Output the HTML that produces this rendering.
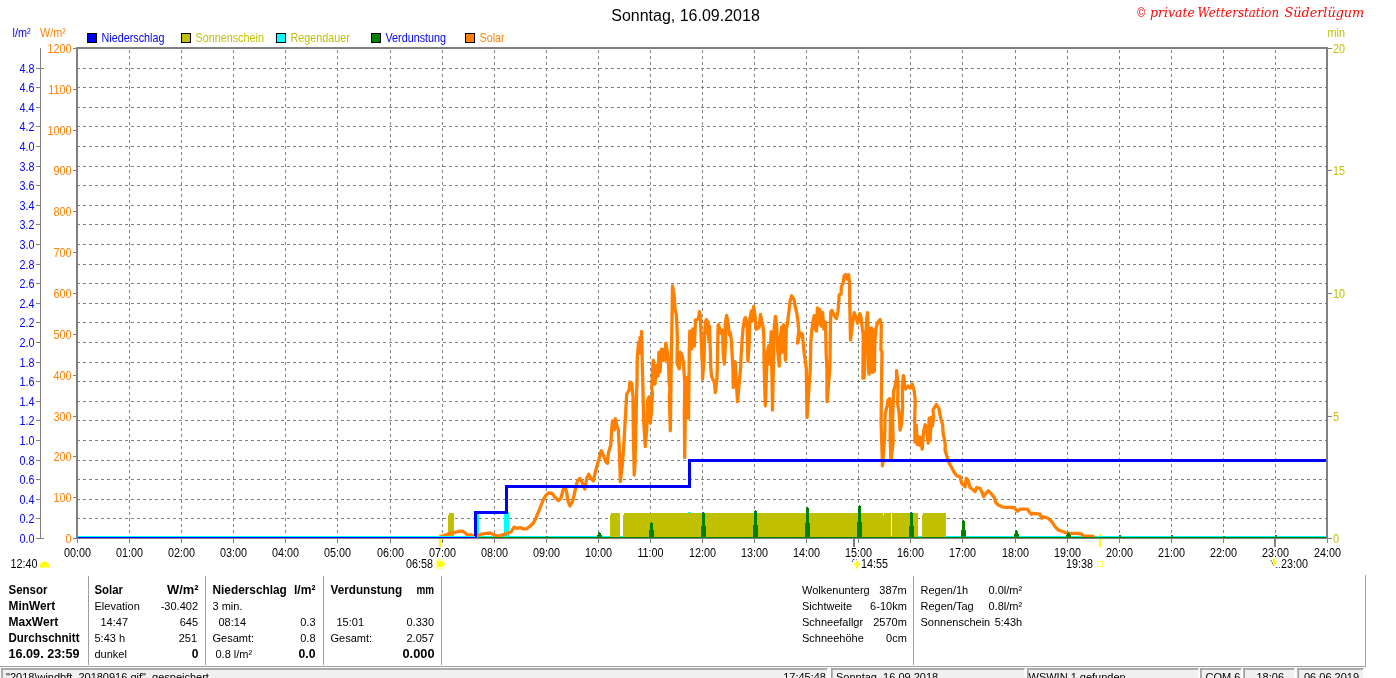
<!DOCTYPE html>
<html lang="de"><head><meta charset="utf-8"><title>Wetterstation Süderlügum – Sonntag, 16.09.2018</title>
<style>html,body{margin:0;padding:0;background:#fff;overflow:hidden}body{width:1396px;height:678px}svg text{white-space:pre}</style></head>
<body>
<svg width="1396" height="678" viewBox="0 0 1396 678" style="display:block">
<rect x="0" y="0" width="1396" height="678" fill="#ffffff"/>
<g font-family="Liberation Sans, Arial, sans-serif" font-size="11px">
<g stroke="#808080" stroke-width="1" stroke-dasharray="3 3" shape-rendering="crispEdges" fill="none">
<line x1="77" y1="518.5" x2="1326" y2="518.5"/>
<line x1="77" y1="499.5" x2="1326" y2="499.5"/>
<line x1="77" y1="479.5" x2="1326" y2="479.5"/>
<line x1="77" y1="460.5" x2="1326" y2="460.5"/>
<line x1="77" y1="440.5" x2="1326" y2="440.5"/>
<line x1="77" y1="420.5" x2="1326" y2="420.5"/>
<line x1="77" y1="401.5" x2="1326" y2="401.5"/>
<line x1="77" y1="381.5" x2="1326" y2="381.5"/>
<line x1="77" y1="362.5" x2="1326" y2="362.5"/>
<line x1="77" y1="342.5" x2="1326" y2="342.5"/>
<line x1="77" y1="322.5" x2="1326" y2="322.5"/>
<line x1="77" y1="303.5" x2="1326" y2="303.5"/>
<line x1="77" y1="283.5" x2="1326" y2="283.5"/>
<line x1="77" y1="264.5" x2="1326" y2="264.5"/>
<line x1="77" y1="244.5" x2="1326" y2="244.5"/>
<line x1="77" y1="224.5" x2="1326" y2="224.5"/>
<line x1="77" y1="205.5" x2="1326" y2="205.5"/>
<line x1="77" y1="185.5" x2="1326" y2="185.5"/>
<line x1="77" y1="166.5" x2="1326" y2="166.5"/>
<line x1="77" y1="146.5" x2="1326" y2="146.5"/>
<line x1="77" y1="126.5" x2="1326" y2="126.5"/>
<line x1="77" y1="107.5" x2="1326" y2="107.5"/>
<line x1="77" y1="87.5" x2="1326" y2="87.5"/>
<line x1="77" y1="68.5" x2="1326" y2="68.5"/>
<line x1="129.5" y1="50" x2="129.5" y2="537"/>
<line x1="181.5" y1="50" x2="181.5" y2="537"/>
<line x1="233.5" y1="50" x2="233.5" y2="537"/>
<line x1="285.5" y1="50" x2="285.5" y2="537"/>
<line x1="337.5" y1="50" x2="337.5" y2="537"/>
<line x1="390.5" y1="50" x2="390.5" y2="537"/>
<line x1="442.5" y1="50" x2="442.5" y2="537"/>
<line x1="494.5" y1="50" x2="494.5" y2="537"/>
<line x1="546.5" y1="50" x2="546.5" y2="537"/>
<line x1="598.5" y1="50" x2="598.5" y2="537"/>
<line x1="650.5" y1="50" x2="650.5" y2="537"/>
<line x1="702.5" y1="50" x2="702.5" y2="537"/>
<line x1="754.5" y1="50" x2="754.5" y2="537"/>
<line x1="806.5" y1="50" x2="806.5" y2="537"/>
<line x1="858.5" y1="50" x2="858.5" y2="537"/>
<line x1="910.5" y1="50" x2="910.5" y2="537"/>
<line x1="962.5" y1="50" x2="962.5" y2="537"/>
<line x1="1015.5" y1="50" x2="1015.5" y2="537"/>
<line x1="1067.5" y1="50" x2="1067.5" y2="537"/>
<line x1="1119.5" y1="50" x2="1119.5" y2="537"/>
<line x1="1171.5" y1="50" x2="1171.5" y2="537"/>
<line x1="1223.5" y1="50" x2="1223.5" y2="537"/>
<line x1="1275.5" y1="50" x2="1275.5" y2="537"/>
</g>
<rect x="439" y="534" width="2" height="13" fill="#ffff00" shape-rendering="crispEdges"/>
<rect x="1099" y="534" width="2" height="13" fill="#ffff00" shape-rendering="crispEdges"/>
<clipPath id="pc"><rect x="78" y="49" width="1248" height="489"/></clipPath>
<g clip-path="url(#pc)">
<g fill="#00ffff" shape-rendering="crispEdges">
<rect x="78" y="536" width="1249" height="1"/>
<rect x="474" y="512" width="5" height="26"/>
<rect x="504" y="512" width="5" height="26"/>
<rect x="688" y="512" width="3" height="1"/>
</g>
<g fill="#c0c000" shape-rendering="crispEdges">
<rect x="448" y="513" width="6" height="25"/>
<rect x="610" y="513" width="10" height="25"/>
<rect x="623" y="513" width="268" height="25"/>
<rect x="892" y="513" width="26" height="25"/>
<rect x="922" y="513" width="24" height="25"/>
</g>
<rect x="883" y="513" width="1" height="2" fill="#fff" shape-rendering="crispEdges"/>
<rect x="448" y="513" width="1" height="2" fill="#fff" shape-rendering="crispEdges"/>
<rect x="610" y="513" width="1" height="2" fill="#fff" shape-rendering="crispEdges"/>
<rect x="623" y="513" width="1" height="2" fill="#fff" shape-rendering="crispEdges"/>
<rect x="922" y="513" width="1" height="2" fill="#fff" shape-rendering="crispEdges"/>
<path d="M440.6,536.9 L447.7,534.2 L453.0,532.8 L458.3,531.5 L462.8,531.2 L465.4,533.3 L468.1,535.4 L470.7,534.7 L473.4,536.0 L476.0,536.0 L481.3,534.2 L486.7,533.3 L490.2,533.0 L492.9,534.2 L496.4,536.0 L500.8,535.4 L504.4,534.2 L507.9,533.3 L511.4,531.5 L514.1,527.1 L516.8,528.4 L520.3,527.6 L523.0,528.9 L526.5,528.9 L530.0,526.2 L533.6,522.7 L536.2,517.4 L539.8,508.5 L543.3,499.7 L546.0,495.2 L548.6,492.9 L552.2,493.5 L554.8,497.0 L558.4,500.6 L561.0,497.9 L562.8,490.8 L564.6,486.4 L566.3,490.8 L568.1,501.4 L569.9,505.9 L572.5,501.4 L574.3,494.4 L576.1,485.5 L577.8,480.2 L580.1,478.4 L582.3,482.9 L584.9,489.1 L586.7,478.3 L588.7,474.2 L590.8,478.3 L593.3,480.8 L595.8,470.0 L599.2,458.3 L601.3,450.8 L603.3,455.0 L605.8,461.7 L607.5,463.3 L608.3,453.3 L610.8,445.0 L611.7,430.0 L612.5,420.8 L614.2,430.0 L615.3,418.7 L616.7,425.0 L618.3,430.0 L619.2,446.7 L620.0,470.0 L620.3,481.7 L622.5,463.3 L624.2,438.3 L625.8,410.0 L626.7,394.2 L629.2,390.0 L630.0,382.0 L631.7,383.3 L633.0,396.7 L633.3,430.0 L634.2,475.0 L635.0,463.3 L635.8,430.0 L636.7,388.3 L636.9,388.2 L637.3,358.1 L638.6,342.1 L639.3,353.1 L640.1,337.1 L640.9,350.1 L641.6,331.5 L642.1,355.1 L642.9,388.2 L643.7,421.7 L645.3,446.7 L646.7,430.0 L647.5,400.0 L649.2,396.7 L650.3,423.3 L651.3,413.3 L652.5,393.3 L651.7,388.2 L653.2,360.1 L655.0,384.2 L656.7,365.1 L658.0,376.2 L658.9,352.1 L660.0,372.2 L661.4,349.1 L662.7,360.6 L664.2,349.1 L665.0,360.1 L665.7,343.3 L667.4,352.1 L668.4,363.1 L669.2,382.2 L669.9,388.2 L669.3,396.7 L670.3,430.8 L670.8,396.7 L671.3,355.0 L672.0,320.0 L672.5,285.8 L674.2,295.8 L675.0,308.3 L676.3,315.0 L676.7,320.0 L677.4,339.1 L677.0,363.1 L679.2,368.8 L680.2,352.1 L681.7,354.6 L683.0,359.6 L683.8,368.1 L684.8,384.2 L684.3,413.3 L684.7,457.5 L685.3,413.3 L686.8,377.5 L688.0,396.7 L688.5,418.3 L688.8,396.7 L689.3,350.1 L689.8,331.0 L691.8,349.1 L692.8,329.0 L694.3,346.1 L695.3,326.0 L695.3,320.0 L698.3,319.2 L699.5,311.7 L700.8,320.0 L700.5,320.1 L701.8,354.2 L702.5,368.2 L702.5,379.2 L704.0,360.2 L704.8,330.1 L705.5,321.6 L706.5,319.6 L707.2,333.1 L708.0,321.6 L708.8,340.1 L709.5,326.1 L710.3,350.2 L710.8,368.2 L711.5,376.2 L714.3,382.2 L715.3,392.5 L716.9,379.2 L717.3,368.2 L717.6,349.1 L718.1,325.1 L718.6,324.6 L720.6,333.1 L722.6,330.1 L723.3,354.2 L724.3,364.2 L725.6,340.1 L725.2,324.1 L726.6,315.5 L728.1,323.1 L729.3,335.1 L730.1,332.1 L731.3,340.1 L732.1,354.2 L732.9,368.2 L733.3,387.5 L735.1,361.7 L737.5,401.7 L740.6,368.2 L741.1,356.2 L742.1,340.1 L743.1,328.1 L744.6,318.6 L745.6,317.6 L747.1,325.1 L747.9,361.2 L749.1,345.1 L749.8,319.1 L751.4,311.0 L752.2,321.1 L753.7,306.5 L755.0,315.0 L756.0,329.1 L757.7,328.6 L759.2,327.1 L760.5,314.5 L761.7,321.1 L763.0,326.6 L763.8,336.1 L764.2,368.2 L765.3,405.8 L766.7,368.2 L767.2,354.2 L768.7,345.6 L769.7,364.2 L771.2,331.6 L772.5,410.0 L774.2,327.1 L775.4,316.5 L776.7,326.1 L777.7,350.2 L779.2,366.2 L780.2,339.1 L781.7,327.1 L782.4,352.2 L783.5,324.6 L784.8,350.2 L785.5,360.2 L786.3,329.1 L787.5,323.1 L788.8,312.5 L790.3,300.0 L791.7,295.8 L794.2,300.0 L794.8,305.0 L796.8,313.0 L797.8,320.1 L798.8,330.1 L797.5,343.1 L800.3,333.1 L802.3,334.1 L803.3,344.1 L804.3,354.2 L805.8,364.2 L806.3,368.2 L807.0,417.5 L810.3,368.2 L810.8,342.1 L811.8,330.1 L813.3,320.1 L814.3,315.5 L815.3,329.1 L816.5,331.1 L817.4,308.0 L818.9,324.1 L819.9,309.5 L821.4,326.1 L822.6,312.5 L823.9,329.1 L825.4,322.1 L826.2,354.2 L826.9,368.2 L827.0,401.7 L829.9,368.2 L830.4,325.1 L830.9,311.5 L831.9,310.5 L833.9,315.0 L836.4,318.6 L837.9,312.0 L838.9,300.0 L839.1,295.1 L841.1,294.1 L841.3,287.1 L843.1,283.0 L844.1,276.0 L845.6,274.5 L847.1,279.0 L848.6,274.8 L849.6,284.0 L849.7,302.1 L850.5,340.1 L852.0,328.0 L854.2,312.6 L856.2,318.2 L857.7,323.2 L859.7,313.6 L861.2,318.2 L862.2,328.2 L863.2,334.2 L862.9,378.2 L864.1,378.2 L865.3,348.0 L866.5,322.0 L867.4,312.6 L868.3,330.0 L868.5,370.0 L869.1,374.2 L869.9,329.0 L870.6,372.0 L871.4,328.0 L872.1,372.0 L872.9,349.0 L873.5,372.0 L873.8,330.0 L874.4,371.0 L874.9,340.0 L876.1,327.5 L877.9,322.0 L880.1,319.5 L881.3,325.0 L880.9,350.0 L882.0,351.6 L881.6,378.0 L881.1,423.1 L882.5,465.8 L884.6,438.2 L885.1,414.1 L887.1,406.1 L888.1,400.1 L889.6,398.6 L890.6,408.1 L890.1,438.2 L891.0,460.0 L893.1,442.2 L892.6,419.1 L893.6,391.0 L895.1,386.0 L896.6,378.0 L896.5,370.7 L898.1,384.0 L897.6,403.1 L899.1,413.1 L900.1,430.2 L901.6,423.1 L902.6,408.1 L902.3,387.0 L903.4,375.7 L904.1,380.0 L904.6,387.0 L905.6,389.0 L908.1,386.0 L910.2,388.0 L912.2,384.0 L914.2,391.0 L915.2,400.1 L914.7,420.1 L915.0,442.2 L916.2,425.1 L917.4,444.7 L918.2,436.7 L919.4,445.2 L920.2,437.2 L922.2,449.2 L923.7,431.2 L925.2,424.6 L926.7,430.2 L928.2,443.2 L929.2,418.1 L930.2,440.2 L931.2,417.1 L932.4,426.1 L933.7,416.1 L932.9,410.1 L934.7,407.1 L936.4,404.6 L938.7,408.1 L939.7,413.1 L941.2,420.1 L942.7,425.1 L943.2,434.2 L944.8,441.2 L945.3,446.2 L945.0,450.0 L946.7,455.8 L949.2,463.3 L951.7,467.5 L954.2,472.5 L956.7,475.8 L960.0,476.7 L961.7,483.3 L965.0,486.7 L966.3,478.3 L968.3,480.8 L970.0,487.5 L973.3,490.0 L975.0,491.7 L976.7,487.5 L980.0,488.3 L982.5,493.3 L983.7,496.7 L985.8,493.3 L988.3,490.8 L991.7,494.2 L994.2,497.5 L995.8,502.5 L998.3,505.0 L1003.3,507.2 L1013.3,507.5 L1015.8,509.2 L1017.5,511.3 L1020.0,509.2 L1027.5,509.2 L1029.2,511.7 L1031.3,514.2 L1033.3,513.3 L1040.0,514.2 L1041.7,518.3 L1043.3,516.7 L1048.3,518.3 L1051.7,521.7 L1055.0,526.7 L1058.3,530.0 L1063.3,531.7 L1067.5,533.3 L1078.3,533.3 L1081.7,534.2 L1083.3,535.8 L1093.3,536.3" fill="none" stroke="#ff8000" stroke-width="3.3" stroke-linejoin="round" stroke-linecap="round"/>
<g fill="#008000" shape-rendering="crispEdges">
<rect x="478" y="537" width="849" height="1"/>
<rect x="546" y="536" width="2" height="2"/>
<rect x="599" y="532" width="1" height="6"/>
<rect x="598" y="533" width="3" height="5"/>
<rect x="597" y="535" width="5" height="3"/>
<rect x="651" y="522" width="1" height="16"/>
<rect x="650" y="523" width="3" height="15"/>
<rect x="649" y="530" width="5" height="8"/>
<rect x="703" y="512" width="1" height="26"/>
<rect x="702" y="513" width="3" height="25"/>
<rect x="701" y="526" width="5" height="12"/>
<rect x="755" y="510" width="1" height="28"/>
<rect x="754" y="511" width="3" height="27"/>
<rect x="753" y="525" width="5" height="13"/>
<rect x="807" y="507" width="1" height="31"/>
<rect x="806" y="508" width="3" height="30"/>
<rect x="805" y="523" width="5" height="15"/>
<rect x="859" y="505" width="1" height="33"/>
<rect x="858" y="506" width="3" height="32"/>
<rect x="857" y="522" width="5" height="16"/>
<rect x="911" y="512" width="1" height="26"/>
<rect x="910" y="513" width="3" height="25"/>
<rect x="909" y="526" width="5" height="12"/>
<rect x="963" y="520" width="1" height="18"/>
<rect x="962" y="521" width="3" height="17"/>
<rect x="961" y="530" width="5" height="8"/>
<rect x="1016" y="530" width="1" height="8"/>
<rect x="1015" y="531" width="3" height="7"/>
<rect x="1014" y="534" width="5" height="4"/>
<rect x="1068" y="532" width="1" height="6"/>
<rect x="1067" y="533" width="3" height="5"/>
<rect x="1066" y="535" width="5" height="3"/>
<rect x="1119" y="535" width="2" height="3"/>
<rect x="1171" y="535" width="2" height="3"/>
<rect x="1223" y="536" width="2" height="2"/>
<rect x="1275" y="535" width="2" height="3"/>
</g>
</g>
<path d="M78,537.5 H475.5 V512.5 H506 V486.5 H689 V460.5 H1326" fill="none" stroke="#0000ff" stroke-width="3" stroke-linejoin="miter" shape-rendering="crispEdges"/>
<rect x="78" y="536" width="397" height="1" fill="#00ffff" shape-rendering="crispEdges"/>
<g fill="#808080" shape-rendering="crispEdges">
<rect x="76" y="47" width="1252" height="2"/>
<rect x="76" y="47" width="2" height="492"/>
<rect x="1326" y="47" width="2" height="492"/>
<rect x="76" y="538" width="1252" height="1"/>
<rect x="77" y="539" width="1" height="4"/>
<rect x="129" y="539" width="1" height="4"/>
<rect x="181" y="539" width="1" height="4"/>
<rect x="233" y="539" width="1" height="4"/>
<rect x="285" y="539" width="1" height="4"/>
<rect x="337" y="539" width="1" height="4"/>
<rect x="390" y="539" width="1" height="4"/>
<rect x="442" y="539" width="1" height="4"/>
<rect x="494" y="539" width="1" height="4"/>
<rect x="546" y="539" width="1" height="4"/>
<rect x="598" y="539" width="1" height="4"/>
<rect x="650" y="539" width="1" height="4"/>
<rect x="702" y="539" width="1" height="4"/>
<rect x="754" y="539" width="1" height="4"/>
<rect x="806" y="539" width="1" height="4"/>
<rect x="858" y="539" width="1" height="4"/>
<rect x="910" y="539" width="1" height="4"/>
<rect x="962" y="539" width="1" height="4"/>
<rect x="1015" y="539" width="1" height="4"/>
<rect x="1067" y="539" width="1" height="4"/>
<rect x="1119" y="539" width="1" height="4"/>
<rect x="1171" y="539" width="1" height="4"/>
<rect x="1223" y="539" width="1" height="4"/>
<rect x="1275" y="539" width="1" height="4"/>
<rect x="1327" y="539" width="1" height="4"/>
<rect x="853" y="538" width="2" height="9"/>
<rect x="1274" y="538" width="2" height="9"/>
<rect x="40" y="48" width="1" height="491"/>
<rect x="36" y="538" width="8" height="1"/>
<rect x="36" y="518" width="4" height="1"/>
<rect x="36" y="499" width="4" height="1"/>
<rect x="36" y="479" width="4" height="1"/>
<rect x="36" y="460" width="4" height="1"/>
<rect x="36" y="440" width="4" height="1"/>
<rect x="36" y="420" width="4" height="1"/>
<rect x="36" y="401" width="4" height="1"/>
<rect x="36" y="381" width="4" height="1"/>
<rect x="36" y="362" width="4" height="1"/>
<rect x="36" y="342" width="4" height="1"/>
<rect x="36" y="322" width="4" height="1"/>
<rect x="36" y="303" width="4" height="1"/>
<rect x="36" y="283" width="4" height="1"/>
<rect x="36" y="264" width="4" height="1"/>
<rect x="36" y="244" width="4" height="1"/>
<rect x="36" y="224" width="4" height="1"/>
<rect x="36" y="205" width="4" height="1"/>
<rect x="36" y="185" width="4" height="1"/>
<rect x="36" y="166" width="4" height="1"/>
<rect x="36" y="146" width="4" height="1"/>
<rect x="36" y="126" width="4" height="1"/>
<rect x="36" y="107" width="4" height="1"/>
<rect x="36" y="87" width="4" height="1"/>
<rect x="36" y="68" width="8" height="1"/>
<rect x="73" y="538" width="3" height="1"/>
<rect x="73" y="497" width="3" height="1"/>
<rect x="73" y="456" width="3" height="1"/>
<rect x="73" y="416" width="3" height="1"/>
<rect x="73" y="375" width="3" height="1"/>
<rect x="73" y="334" width="3" height="1"/>
<rect x="73" y="293" width="3" height="1"/>
<rect x="73" y="252" width="3" height="1"/>
<rect x="73" y="211" width="3" height="1"/>
<rect x="73" y="170" width="3" height="1"/>
<rect x="73" y="130" width="3" height="1"/>
<rect x="73" y="89" width="3" height="1"/>
<rect x="73" y="48" width="3" height="1"/>
<rect x="1328" y="538" width="4" height="1"/>
<rect x="1328" y="416" width="4" height="1"/>
<rect x="1328" y="293" width="4" height="1"/>
<rect x="1328" y="170" width="4" height="1"/>
<rect x="1328" y="48" width="4" height="1"/>
</g>
<g opacity="0.999">
<text x="685.5" y="21" font-size="16px" text-anchor="middle" fill="#000">Sonntag, 16.09.2018</text>
<g font-size="12px" font-style="italic" font-family="DejaVu Serif, Liberation Serif, serif" fill="#ff0000">
<text x="1136" y="16.6" textLength="10.5" lengthAdjust="spacingAndGlyphs">©</text>
<text x="1150" y="16.6" textLength="45" lengthAdjust="spacingAndGlyphs">private</text>
<text x="1197.6" y="16.6" textLength="81.5" lengthAdjust="spacingAndGlyphs">Wetterstation</text>
<text x="1284.5" y="16.6" textLength="79.7" lengthAdjust="spacingAndGlyphs">Süderlügum</text>
</g>
<text transform="translate(101.5 42) scale(0.9 1)" font-size="12px" fill="#0000ff">Niederschlag</text>
<text transform="translate(195.5 42) scale(0.9 1)" font-size="12px" fill="#c0c000">Sonnenschein</text>
<text transform="translate(290.5 42) scale(0.9 1)" font-size="12px" fill="#c0c000">Regendauer</text>
<text transform="translate(385.5 42) scale(0.9 1)" font-size="12px" fill="#0000ff">Verdunstung</text>
<text transform="translate(479.5 42) scale(0.9 1)" font-size="12px" fill="#ff8000">Solar</text>
<g fill="#0000ff" text-anchor="end">
<text transform="translate(34.5 542.5) scale(0.9 1)" font-size="12px">0.0</text>
<text transform="translate(34.5 522.5) scale(0.9 1)" font-size="12px">0.2</text>
<text transform="translate(34.5 503.5) scale(0.9 1)" font-size="12px">0.4</text>
<text transform="translate(34.5 483.5) scale(0.9 1)" font-size="12px">0.6</text>
<text transform="translate(34.5 464.5) scale(0.9 1)" font-size="12px">0.8</text>
<text transform="translate(34.5 444.5) scale(0.9 1)" font-size="12px">1.0</text>
<text transform="translate(34.5 424.5) scale(0.9 1)" font-size="12px">1.2</text>
<text transform="translate(34.5 405.5) scale(0.9 1)" font-size="12px">1.4</text>
<text transform="translate(34.5 385.5) scale(0.9 1)" font-size="12px">1.6</text>
<text transform="translate(34.5 366.5) scale(0.9 1)" font-size="12px">1.8</text>
<text transform="translate(34.5 346.5) scale(0.9 1)" font-size="12px">2.0</text>
<text transform="translate(34.5 326.5) scale(0.9 1)" font-size="12px">2.2</text>
<text transform="translate(34.5 307.5) scale(0.9 1)" font-size="12px">2.4</text>
<text transform="translate(34.5 287.5) scale(0.9 1)" font-size="12px">2.6</text>
<text transform="translate(34.5 268.5) scale(0.9 1)" font-size="12px">2.8</text>
<text transform="translate(34.5 248.5) scale(0.9 1)" font-size="12px">3.0</text>
<text transform="translate(34.5 228.5) scale(0.9 1)" font-size="12px">3.2</text>
<text transform="translate(34.5 209.5) scale(0.9 1)" font-size="12px">3.4</text>
<text transform="translate(34.5 189.5) scale(0.9 1)" font-size="12px">3.6</text>
<text transform="translate(34.5 170.5) scale(0.9 1)" font-size="12px">3.8</text>
<text transform="translate(34.5 150.5) scale(0.9 1)" font-size="12px">4.0</text>
<text transform="translate(34.5 130.5) scale(0.9 1)" font-size="12px">4.2</text>
<text transform="translate(34.5 111.5) scale(0.9 1)" font-size="12px">4.4</text>
<text transform="translate(34.5 91.5) scale(0.9 1)" font-size="12px">4.6</text>
<text transform="translate(34.5 72.5) scale(0.9 1)" font-size="12px">4.8</text>
</g>
<g fill="#ff8000" text-anchor="end">
<text transform="translate(71.5 542.5) scale(0.9 1)" font-size="12px">0</text>
<text transform="translate(71.5 501.5) scale(0.9 1)" font-size="12px">100</text>
<text transform="translate(71.5 460.5) scale(0.9 1)" font-size="12px">200</text>
<text transform="translate(71.5 420.5) scale(0.9 1)" font-size="12px">300</text>
<text transform="translate(71.5 379.5) scale(0.9 1)" font-size="12px">400</text>
<text transform="translate(71.5 338.5) scale(0.9 1)" font-size="12px">500</text>
<text transform="translate(71.5 297.5) scale(0.9 1)" font-size="12px">600</text>
<text transform="translate(71.5 256.5) scale(0.9 1)" font-size="12px">700</text>
<text transform="translate(71.5 215.5) scale(0.9 1)" font-size="12px">800</text>
<text transform="translate(71.5 174.5) scale(0.9 1)" font-size="12px">900</text>
<text transform="translate(71.5 134.5) scale(0.9 1)" font-size="12px">1000</text>
<text transform="translate(71.5 93.5) scale(0.9 1)" font-size="12px">1100</text>
<text transform="translate(71.5 52.5) scale(0.9 1)" font-size="12px">1200</text>
</g>
<g fill="#c0c000">
<text transform="translate(1333 542.5) scale(0.9 1)" font-size="12px">0</text>
<text transform="translate(1333 420.5) scale(0.9 1)" font-size="12px">5</text>
<text transform="translate(1333 297.5) scale(0.9 1)" font-size="12px">10</text>
<text transform="translate(1333 174.5) scale(0.9 1)" font-size="12px">15</text>
<text transform="translate(1333 52.5) scale(0.9 1)" font-size="12px">20</text>
<text transform="translate(1327.5 37) scale(0.9 1)" font-size="12px">min</text>
</g>
<text transform="translate(12.5 37) scale(0.9 1)" font-size="12px" fill="#0000ff">l/m²</text>
<text transform="translate(40 37) scale(0.9 1)" font-size="12px" fill="#ff8000">W/m²</text>
</g>
<rect x="87.5" y="33.5" width="9" height="9" fill="#0000ff" stroke="#000" stroke-width="1" shape-rendering="crispEdges"/>
<rect x="181.5" y="33.5" width="9" height="9" fill="#c0c000" stroke="#000" stroke-width="1" shape-rendering="crispEdges"/>
<rect x="276.5" y="33.5" width="9" height="9" fill="#00ffff" stroke="#000" stroke-width="1" shape-rendering="crispEdges"/>
<rect x="371.5" y="33.5" width="9" height="9" fill="#008000" stroke="#000" stroke-width="1" shape-rendering="crispEdges"/>
<rect x="465.5" y="33.5" width="9" height="9" fill="#ff8000" stroke="#000" stroke-width="1" shape-rendering="crispEdges"/>
<g opacity="0.999">
<g fill="#000" text-anchor="middle">
<text transform="translate(77.5 557) scale(0.9 1)" font-size="12px">00:00</text>
<text transform="translate(129.5 557) scale(0.9 1)" font-size="12px">01:00</text>
<text transform="translate(181.5 557) scale(0.9 1)" font-size="12px">02:00</text>
<text transform="translate(233.5 557) scale(0.9 1)" font-size="12px">03:00</text>
<text transform="translate(285.5 557) scale(0.9 1)" font-size="12px">04:00</text>
<text transform="translate(337.5 557) scale(0.9 1)" font-size="12px">05:00</text>
<text transform="translate(390.5 557) scale(0.9 1)" font-size="12px">06:00</text>
<text transform="translate(442.5 557) scale(0.9 1)" font-size="12px">07:00</text>
<text transform="translate(494.5 557) scale(0.9 1)" font-size="12px">08:00</text>
<text transform="translate(546.5 557) scale(0.9 1)" font-size="12px">09:00</text>
<text transform="translate(598.5 557) scale(0.9 1)" font-size="12px">10:00</text>
<text transform="translate(650.5 557) scale(0.9 1)" font-size="12px">11:00</text>
<text transform="translate(702.5 557) scale(0.9 1)" font-size="12px">12:00</text>
<text transform="translate(754.5 557) scale(0.9 1)" font-size="12px">13:00</text>
<text transform="translate(806.5 557) scale(0.9 1)" font-size="12px">14:00</text>
<text transform="translate(858.5 557) scale(0.9 1)" font-size="12px">15:00</text>
<text transform="translate(910.5 557) scale(0.9 1)" font-size="12px">16:00</text>
<text transform="translate(962.5 557) scale(0.9 1)" font-size="12px">17:00</text>
<text transform="translate(1015.5 557) scale(0.9 1)" font-size="12px">18:00</text>
<text transform="translate(1067.5 557) scale(0.9 1)" font-size="12px">19:00</text>
<text transform="translate(1119.5 557) scale(0.9 1)" font-size="12px">20:00</text>
<text transform="translate(1171.5 557) scale(0.9 1)" font-size="12px">21:00</text>
<text transform="translate(1223.5 557) scale(0.9 1)" font-size="12px">22:00</text>
<text transform="translate(1275.5 557) scale(0.9 1)" font-size="12px">23:00</text>
<text transform="translate(1327.5 557) scale(0.9 1)" font-size="12px">24:00</text>
</g>
<g fill="#000">
<text transform="translate(10.5 568) scale(0.9 1)" font-size="12px">12:40</text>
<text transform="translate(406 568) scale(0.9 1)" font-size="12px">06:58</text>
<text transform="translate(861 568) scale(0.9 1)" font-size="12px">14:55</text>
<text transform="translate(1066 568) scale(0.9 1)" font-size="12px">19:38</text>
<text transform="translate(1281 568) scale(0.9 1)" font-size="12px">23:00</text>
</g>
</g>
<path d="M40,567.5 v-2 q0.5,-4 4.5,-4 q4,0 4.5,4 v2 z" fill="#ffff00"/>
<g stroke="#ffff80" stroke-width="1" fill="none"><circle cx="440" cy="564" r="4.8"/><path d="M435.8,559.8 L444.2,568.2 M444.2,559.8 L435.8,568.2 M440,558 V570 M434,564 H446"/></g>
<circle cx="440" cy="564" r="3.3" fill="#ffff00"/>
<path d="M857,560.5 l3.5,4.5 h-2.2 v3.5 h-2.6 v-3.5 h-2.2 z" fill="#ffff00"/>
<path d="M852.5,562 v-2.5 h4" fill="none" stroke="#4040c0" stroke-width="1" stroke-dasharray="1.5 1.5"/>
<rect x="1097.5" y="561.5" width="5" height="5" fill="none" stroke="#ffff60" stroke-width="1"/>
<path d="M1274,566.5 l-3,-4.5 h1.8 v-3.5 h2.4 v3.5 h1.8 z" fill="#ffff00"/>
<path d="M1271,560 l2.5,6 M1276,567.5 h4" fill="none" stroke="#4040c0" stroke-width="1" stroke-dasharray="1.5 1.5"/>
<g fill="#a0a0a0" shape-rendering="crispEdges">
<rect x="88" y="576" width="1" height="89"/>
<rect x="205" y="576" width="1" height="89"/>
<rect x="323" y="576" width="1" height="89"/>
<rect x="441" y="576" width="1" height="89"/>
<rect x="913" y="576" width="1" height="89"/>
<rect x="1365" y="575" width="1" height="92"/>
</g>
<g opacity="0.999">
<g fill="#000">
<text x="8.5" y="593.5" font-weight="bold" font-size="12px" textLength="39" lengthAdjust="spacingAndGlyphs">Sensor</text>
<text x="8.5" y="609.5" font-weight="bold" font-size="12px" textLength="46.7" lengthAdjust="spacingAndGlyphs">MinWert</text>
<text x="8.5" y="625.5" font-weight="bold" font-size="12px" textLength="49.8" lengthAdjust="spacingAndGlyphs">MaxWert</text>
<text x="8.5" y="641.5" font-weight="bold" font-size="12px" textLength="71" lengthAdjust="spacingAndGlyphs">Durchschnitt</text>
<text x="8.5" y="657.5" font-weight="bold" font-size="12px" textLength="71" lengthAdjust="spacingAndGlyphs">16.09. 23:59</text>
<text x="94.5" y="593.5" font-weight="bold" font-size="12px" textLength="28.4" lengthAdjust="spacingAndGlyphs">Solar</text>
<text x="198.5" y="593.5" text-anchor="end" font-weight="bold" font-size="12px" textLength="31.5" lengthAdjust="spacingAndGlyphs">W/m²</text>
<text x="94.5" y="609.5">Elevation</text>
<text x="198" y="609.5" text-anchor="end">-30.402</text>
<text x="100.5" y="625.5">14:47</text>
<text x="198" y="625.5" text-anchor="end">645</text>
<text x="94.5" y="641.5">5:43 h</text>
<text x="197" y="641.5" text-anchor="end">251</text>
<text x="94.5" y="657.5">dunkel</text>
<text x="198.5" y="657.5" text-anchor="end" font-weight="bold" font-size="12px">0</text>
<text x="212.5" y="593.5" font-weight="bold" font-size="12px" textLength="74.3" lengthAdjust="spacingAndGlyphs">Niederschlag</text>
<text x="315.5" y="593.5" text-anchor="end" font-weight="bold" font-size="12px" textLength="21.5" lengthAdjust="spacingAndGlyphs">l/m²</text>
<text x="212.5" y="609.5">3 min.</text>
<text x="218.5" y="625.5">08:14</text>
<text x="315.5" y="625.5" text-anchor="end">0.3</text>
<text x="212.5" y="641.5">Gesamt:</text>
<text x="315.5" y="641.5" text-anchor="end">0.8</text>
<text x="215.5" y="657.5">0.8 l/m²</text>
<text x="315.5" y="657.5" text-anchor="end" font-weight="bold" font-size="12px" textLength="17" lengthAdjust="spacingAndGlyphs">0.0</text>
<text x="330.5" y="593.5" font-weight="bold" font-size="12px" textLength="71.7" lengthAdjust="spacingAndGlyphs">Verdunstung</text>
<text x="434" y="593.5" text-anchor="end" font-weight="bold" font-size="12px" textLength="17.6" lengthAdjust="spacingAndGlyphs">mm</text>
<text x="336.5" y="625.5">15:01</text>
<text x="434" y="625.5" text-anchor="end">0.330</text>
<text x="330.5" y="641.5">Gesamt:</text>
<text x="434" y="641.5" text-anchor="end">2.057</text>
<text x="434.5" y="657.5" text-anchor="end" font-weight="bold" font-size="12px" textLength="32" lengthAdjust="spacingAndGlyphs">0.000</text>
<text x="802" y="594">Wolkenunterg</text>
<text x="906.8" y="594" text-anchor="end">387m</text>
<text x="802" y="610">Sichtweite</text>
<text x="906.8" y="610" text-anchor="end">6-10km</text>
<text x="802" y="626">Schneefallgr</text>
<text x="906.8" y="626" text-anchor="end">2570m</text>
<text x="802" y="642">Schneehöhe</text>
<text x="906.8" y="642" text-anchor="end">0cm</text>
<text x="920.5" y="594">Regen/1h</text>
<text x="1022.2" y="594" text-anchor="end">0.0l/m²</text>
<text x="920.5" y="610">Regen/Tag</text>
<text x="1022.2" y="610" text-anchor="end">0.8l/m²</text>
<text x="920.5" y="626">Sonnenschein</text>
<text x="1022.2" y="626" text-anchor="end">5:43h</text>
</g>
</g>
<g>
<rect x="0" y="667" width="1366" height="11" fill="#fafafa"/>
<rect x="0" y="666" width="1366" height="1" fill="#a0a0a0" shape-rendering="crispEdges"/>
<rect x="1.2" y="668" width="826.8" height="10" fill="#f0f0f0"/>
<rect x="1.2" y="668.1" width="826.3" height="1.7" fill="#a0a0a0"/>
<rect x="1.2" y="668.1" width="1.7" height="10" fill="#a0a0a0"/>
<rect x="827" y="669" width="1" height="9" fill="#ffffff"/>
<rect x="831" y="668" width="194.3" height="10" fill="#f0f0f0"/>
<rect x="831" y="668.1" width="193.8" height="1.7" fill="#a0a0a0"/>
<rect x="831" y="668.1" width="1.7" height="10" fill="#a0a0a0"/>
<rect x="1024.3" y="669" width="1" height="9" fill="#ffffff"/>
<rect x="1027" y="668" width="172.0" height="10" fill="#f0f0f0"/>
<rect x="1027" y="668.1" width="171.5" height="1.7" fill="#a0a0a0"/>
<rect x="1027" y="668.1" width="1.7" height="10" fill="#a0a0a0"/>
<rect x="1198" y="669" width="1" height="9" fill="#ffffff"/>
<rect x="1200.1" y="668" width="41.9" height="10" fill="#f0f0f0"/>
<rect x="1200.1" y="668.1" width="41.4" height="1.7" fill="#a0a0a0"/>
<rect x="1200.1" y="668.1" width="1.7" height="10" fill="#a0a0a0"/>
<rect x="1241" y="669" width="1" height="9" fill="#ffffff"/>
<rect x="1243.3" y="668" width="51.7" height="10" fill="#f0f0f0"/>
<rect x="1243.3" y="668.1" width="51.2" height="1.7" fill="#a0a0a0"/>
<rect x="1243.3" y="668.1" width="1.7" height="10" fill="#a0a0a0"/>
<rect x="1294" y="669" width="1" height="9" fill="#ffffff"/>
<rect x="1297.4" y="668" width="66.6" height="10" fill="#f0f0f0"/>
<rect x="1297.4" y="668.1" width="66.1" height="1.7" fill="#a0a0a0"/>
<rect x="1297.4" y="668.1" width="1.7" height="10" fill="#a0a0a0"/>
<rect x="1363" y="669" width="1" height="9" fill="#ffffff"/>
</g>
<g opacity="0.999">
<g fill="#000">
<text x="6" y="681">"2018\windbft_20180916.gif"  gespeichert</text>
<text x="826" y="681" text-anchor="end">17:45:48</text>
<text x="836" y="681">Sonntag, 16.09.2018</text>
<text x="1028.5" y="681">WSWIN 1 gefunden</text>
<text x="1205.5" y="681">COM 6</text>
<text x="1256.5" y="681">18:06</text>
<text x="1304" y="681">06.06.2019</text>
</g>
</g>
</g>
</svg>
</body></html>
